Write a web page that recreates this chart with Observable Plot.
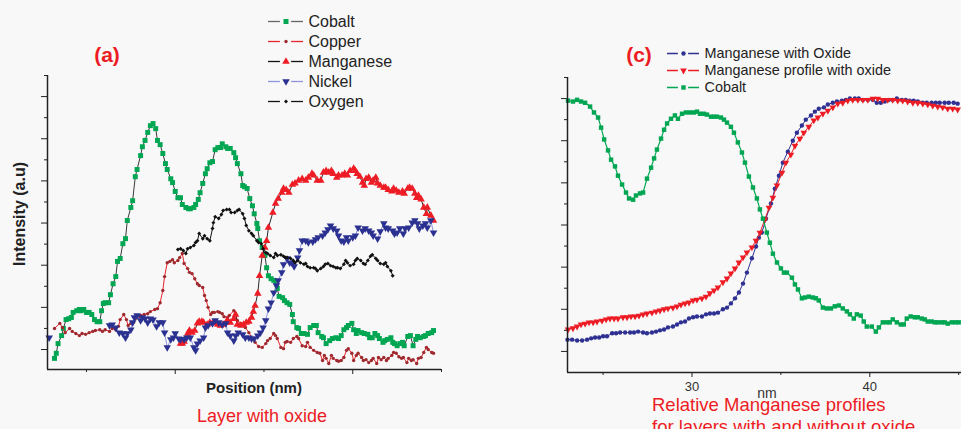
<!DOCTYPE html>
<html><head><meta charset="utf-8">
<script src="https://cdn.jsdelivr.net/npm/d3@7"></script>
<script src="https://cdn.jsdelivr.net/npm/@observablehq/plot@0.6"></script>
<style>
html,body{margin:0;padding:0;background:#f8f8f8;}
#wrap{position:relative;width:961px;height:429px;overflow:hidden;background:#f8f8f8;font-family:"Liberation Sans",Arial,sans-serif;}
.abs{position:absolute;top:0;}
.t{position:absolute;white-space:nowrap;line-height:1;}
.c{transform:translate(-50%,-50%);}
.l{transform:translate(0,-50%);}
</style></head>
<body><div id="wrap">
<div id="pa" class="abs" style="left:0;width:460px"></div>
<div id="pc" class="abs" style="left:480px;width:500px"></div>
<div id="lga" class="abs" style="left:0;width:961px"></div>
<div id="lgc" class="abs" style="left:0;width:961px"></div>
<div class="t c" style="left:107px;top:54px;font-weight:bold;font-size:21px;color:#ed1c24">(a)</div>
<div class="t c" style="left:639px;top:54px;font-weight:bold;font-size:21px;color:#ed1c24">(c)</div>
<div class="t c" style="left:20px;top:214px;font-weight:bold;font-size:16px;color:#222;transform:translate(-50%,-50%) rotate(-90deg)">Intensity (a.u)</div>
<div class="t c" style="left:254px;top:387px;font-weight:bold;font-size:15px;color:#222">Position (nm)</div>
<div class="t c" style="left:262px;top:416px;font-size:18px;color:#ed1c24">Layer with oxide</div>
<div class="t c" style="left:767px;top:393px;font-size:14px;color:#333">nm</div>
<div class="t l" style="left:652px;top:405px;font-size:18.5px;color:#ed1c24">Relative Manganese profiles</div>
<div class="t l" style="left:652px;top:427px;font-size:18.5px;color:#ed1c24">for layers with and without oxide</div>
</div>
<script>
// ---------- Panel (a): Layer with oxide ----------
const cobaltX = [-3.6,-3.4,-3.2,-2.8,-2.6,-2.3,-2.0,-1.7,-1.5,-1.1,-0.8,-0.6,-0.3,0.0,0.3,0.6,0.9,1.2,1.5,1.7,1.9,2.1,2.5,2.7,3.0,3.3,3.5,3.8,4.1,4.4,4.6,5.0,5.2,5.5,5.7,6.1,6.3,6.6,6.9,7.2,7.5,7.8,8.0,8.3,8.6,8.9,9.1,9.5,9.7,10.0,10.3,10.6,10.8,11.2,11.5,11.7,12.1,12.3,12.6,12.8,13.1,13.4,13.6,13.9,14.2,14.5,14.8,15.1,15.3,15.7,15.9,16.2,16.6,16.8,17.0,17.4,17.6,17.8,18.1,18.4,18.7,18.9,19.2,19.3,19.5,19.8,20.1,20.3,20.5,20.8,21.1,21.4,21.5,21.7,22.1,22.3,22.6,22.9,23.2,23.3,23.7,23.9,24.2,24.5,24.9,25.2,25.6,25.9,26.1,26.5,26.7,27.0,27.4,27.7,28.1,28.4,28.7,29.0,29.3,29.5,29.9,30.1,30.4,30.6,31.0,31.3,31.7,31.9,32.2,32.5,32.8,33.0,33.4,33.6,33.9,34.3,34.5,34.7,35.0,35.3,35.6,35.8,36.2,36.5,36.8,37.1,37.3,37.6,38.0,38.2,38.5,38.9,39.1];
const cobaltY = [-0.21,-0.09,0.14,0.33,0.50,0.71,0.73,0.76,0.88,0.92,0.95,0.92,0.95,0.88,0.88,0.83,0.71,0.66,0.66,0.92,1.09,1.11,1.11,1.30,1.56,1.73,2.09,2.16,2.51,2.63,3.06,3.37,3.53,4.10,4.27,4.60,4.81,4.96,5.15,5.31,5.36,5.24,4.96,4.86,4.65,4.41,4.27,4.05,3.96,3.75,3.60,3.60,3.44,3.37,3.34,3.34,3.37,3.44,3.56,3.72,3.94,4.17,4.29,4.43,4.46,4.74,4.79,4.79,4.88,4.81,4.77,4.77,4.67,4.55,4.41,4.17,3.89,3.86,3.82,3.58,3.41,3.22,2.99,2.87,2.58,2.42,2.23,1.94,1.75,1.68,1.64,1.56,1.45,1.26,1.23,1.16,1.11,1.07,0.83,0.66,0.52,0.50,0.38,0.38,0.36,0.52,0.57,0.57,0.40,0.31,0.28,0.14,0.21,0.26,0.28,0.26,0.33,0.47,0.52,0.57,0.62,0.47,0.38,0.45,0.40,0.38,0.36,0.28,0.28,0.38,0.33,0.26,0.17,0.21,0.24,0.28,0.17,0.14,0.09,0.14,0.17,0.09,0.31,0.33,0.09,0.24,0.31,0.28,0.31,0.33,0.38,0.40,0.45];

const copperX = [-3.6,-3.0,-2.7,-2.4,-1.9,-1.6,-1.2,-0.8,-0.5,-0.1,0.3,0.7,1.0,1.5,1.8,2.1,2.6,2.9,3.3,3.6,3.8,4.2,4.5,4.7,5.0,5.3,5.5,5.9,6.1,6.5,6.9,7.2,7.7,8.0,8.3,8.6,8.8,9.1,9.4,9.7,9.9,10.3,10.5,10.8,11.0,11.4,11.6,11.9,12.2,12.5,12.7,13.1,13.3,13.5,13.7,14.0,14.2,14.4,14.8,15.0,15.3,15.5,15.9,16.1,16.6,16.8,17.0,17.4,17.7,17.9,18.3,18.7,19.0,19.4,19.8,20.2,20.4,20.7,21.1,21.3,21.5,21.9,22.2,22.4,22.6,23.0,23.3,23.7,23.9,24.3,24.7,24.9,25.2,25.6,26.0,26.3,26.6,26.8,27.0,27.3,27.6,27.8,28.2,28.4,28.7,29.0,29.3,29.5,29.9,30.1,30.4,30.6,31.0,31.2,31.5,31.8,32.1,32.3,32.7,32.9,33.2,33.5,33.8,34.0,34.4,34.6,34.9,35.2,35.5,35.7,36.1,36.3,36.6,36.8,37.2,37.4,37.7,38.0,38.3,38.5,38.9,39.1];
const copperY = [0.50,0.62,0.52,0.40,0.50,0.43,0.38,0.33,0.38,0.36,0.40,0.43,0.45,0.47,0.43,0.47,0.43,0.50,0.47,0.55,0.71,0.83,0.71,0.57,0.62,0.64,0.73,0.78,0.81,0.83,0.85,0.90,0.95,0.97,1.11,1.40,1.73,2.06,2.09,2.13,2.06,2.11,2.18,2.28,2.04,1.92,1.83,1.80,1.68,1.56,1.52,1.47,1.28,1.16,1.00,0.83,0.88,0.88,0.90,0.88,0.85,0.78,0.76,0.81,0.92,0.85,0.69,0.62,0.59,0.52,0.40,0.26,0.17,0.07,0.05,0.14,0.21,0.26,0.38,0.33,0.26,0.05,0.02,0.17,0.19,0.17,0.26,0.31,0.26,0.09,0.07,0.17,0.05,-0.02,-0.07,-0.09,-0.26,-0.14,-0.21,-0.33,-0.14,-0.21,-0.26,-0.28,-0.26,-0.19,-0.02,0.02,-0.09,-0.26,-0.14,-0.09,-0.19,-0.26,-0.24,-0.31,-0.26,-0.21,-0.33,-0.19,-0.24,-0.19,-0.26,-0.21,-0.14,-0.07,-0.09,-0.17,-0.21,-0.19,-0.31,-0.21,-0.26,-0.24,-0.33,-0.21,-0.19,-0.07,0.05,0.00,-0.07,-0.09];

const manganeseX = [10.6,10.8,11.0,11.4,11.6,11.9,12.2,12.5,12.7,13.0,13.2,13.6,13.9,14.2,14.5,14.8,15.1,15.4,15.7,15.9,16.2,16.6,16.8,17.0,17.4,17.7,18.0,18.3,18.6,18.8,19.0,19.3,19.5,19.8,20.1,20.3,20.5,21.0,21.3,21.6,22.0,22.2,22.5,22.8,23.2,23.5,23.9,24.3,24.7,25.0,25.4,25.6,26.0,26.4,26.7,27.0,27.3,27.6,27.8,28.2,28.4,28.8,29.1,29.4,29.7,30.1,30.3,30.5,30.8,31.1,31.3,31.5,31.8,32.1,32.3,32.6,32.8,33.1,33.5,33.7,34.0,34.4,34.6,34.9,35.2,35.6,35.8,36.2,36.4,36.7,37.0,37.2,37.4,37.7,38.0,38.3,38.4,38.8,39.1];
const manganeseY = [0.14,0.14,0.19,0.38,0.45,0.40,0.45,0.62,0.66,0.66,0.64,0.59,0.64,0.62,0.64,0.59,0.57,0.59,0.64,0.69,0.64,0.73,0.83,0.59,0.57,0.59,0.64,0.66,0.76,0.90,1.04,1.33,1.75,2.23,2.42,2.58,2.89,3.25,3.46,3.58,3.72,3.82,3.79,3.72,3.91,3.94,4.01,4.05,4.01,4.08,4.17,4.13,4.01,4.01,4.20,4.24,4.20,4.24,4.17,4.08,4.13,4.13,4.17,4.13,4.24,4.29,4.24,4.17,4.10,3.96,3.89,4.05,4.08,3.96,4.01,4.08,3.94,3.89,3.84,3.84,3.79,3.75,3.82,3.77,3.72,3.75,3.70,3.82,3.84,3.82,3.70,3.60,3.65,3.56,3.37,3.22,3.37,3.18,3.06];

const nickelX = [-4.2,-4.0,2.6,2.9,3.3,3.7,4.1,4.4,4.6,5.0,5.2,5.4,5.7,6.1,6.3,6.6,6.9,7.2,7.5,7.9,8.2,8.6,8.8,9.1,9.5,9.8,10.0,10.4,10.6,11.0,11.3,11.7,12.1,12.3,12.5,12.8,13.2,13.4,13.7,14.2,14.5,14.9,15.3,15.7,15.9,16.2,16.6,16.8,17.1,17.6,17.9,18.3,18.6,18.9,19.3,19.6,19.9,20.2,20.5,20.8,21.1,21.4,21.6,22.0,22.2,22.6,22.9,23.2,23.4,23.8,24.0,24.3,24.7,25.0,25.5,25.8,26.1,26.6,26.9,27.2,27.5,27.8,28.2,28.4,28.7,29.0,29.3,29.5,30.0,30.3,30.6,31.1,31.4,31.8,32.1,32.3,32.8,33.1,33.5,33.7,34.0,34.5,34.7,35.0,35.3,35.7,35.9,36.3,36.7,37.0,37.3,37.5,37.9,38.2,38.4,38.8,39.1];
const nickelY = [0.28,NaN,0.57,0.59,0.52,0.40,0.38,0.28,0.38,0.47,0.64,0.76,0.81,0.69,0.76,0.73,0.64,0.73,0.71,0.55,0.64,0.64,0.40,0.05,0.24,0.28,0.38,0.26,0.24,0.24,0.28,0.28,0.05,-0.02,0.14,0.21,0.28,0.52,0.57,0.62,0.69,0.64,0.59,0.62,0.40,0.33,0.21,0.33,0.40,0.36,0.28,0.28,0.26,0.26,0.33,0.40,0.52,0.69,0.97,1.11,1.35,1.52,1.64,1.83,2.02,2.16,2.06,2.04,1.97,2.18,2.35,2.58,2.58,2.54,2.56,2.61,2.66,2.70,2.77,2.85,2.94,2.87,2.82,2.70,2.58,2.56,2.66,2.58,2.66,2.70,2.89,2.82,2.87,2.82,2.77,2.70,2.63,2.80,2.99,2.89,2.87,2.82,2.75,2.77,2.87,2.75,2.87,2.89,3.01,3.06,2.99,2.87,2.94,2.99,2.89,3.06,2.77];

const oxygenX = [10.3,10.6,10.9,11.2,11.4,11.7,12.1,12.3,12.5,12.7,13.1,13.3,13.6,13.9,14.2,14.3,14.5,14.9,15.2,15.4,15.8,16.1,16.3,16.7,17.0,17.2,17.6,17.8,18.0,18.3,18.6,18.8,19.2,19.4,19.7,19.9,20.2,20.4,20.7,21.1,21.3,21.5,21.9,22.2,22.4,22.6,23.0,23.3,23.5,23.8,24.1,24.5,24.7,24.9,25.2,25.6,25.8,26.0,26.4,26.7,26.9,27.2,27.5,27.8,28.1,28.3,28.6,29.0,29.2,29.4,29.7,30.1,30.3,30.5,30.9,31.2,31.4,31.7,32.0,32.2,32.6,32.8,33.1,33.5,33.7,33.9,34.3,34.5];
const oxygenY = [2.37,2.39,2.35,2.28,2.39,2.42,2.47,2.54,2.58,2.75,2.63,2.70,2.63,2.58,2.87,3.01,3.15,3.11,3.20,3.30,3.32,3.32,3.25,3.25,3.30,3.32,3.22,3.11,2.94,2.82,2.75,2.70,2.58,2.54,2.51,2.39,2.30,2.28,2.23,2.18,2.28,2.23,2.25,2.21,2.18,2.18,2.16,2.11,2.06,2.11,2.06,2.02,2.04,1.97,1.94,1.94,1.92,1.87,1.92,1.97,2.02,2.04,1.99,1.97,1.94,1.94,1.92,2.02,2.11,2.06,1.99,2.02,2.11,2.16,2.11,2.04,2.02,2.11,2.21,2.25,2.16,2.11,2.04,2.02,2.06,1.97,1.87,1.75];

// ---------- Panel (c): Relative Manganese profiles ----------
const mnOxideX = [23.00,23.26,23.54,23.82,24.10,24.33,24.55,24.78,25.00,25.22,25.51,25.73,25.96,26.24,26.52,26.74,26.97,27.25,27.47,27.75,27.98,28.20,28.43,28.65,28.93,29.16,29.38,29.61,29.83,30.06,30.28,30.56,30.79,31.01,31.24,31.46,31.74,31.97,32.19,32.42,32.64,32.87,33.09,33.37,33.60,33.76,33.93,34.16,34.44,34.66,34.89,35.11,35.39,35.67,35.90,36.18,36.40,36.69,36.91,37.13,37.42,37.64,37.92,38.15,38.43,38.65,38.88,39.16,39.38,39.61,39.89,40.17,40.39,40.62,40.84,41.07,41.29,41.52,41.80,42.02,42.25,42.47,42.70,42.98,43.20,43.48,43.71,43.93,44.21,44.44,44.72,44.94];
const mnOxideY = [0.28,0.28,0.26,0.26,0.28,0.31,0.33,0.33,0.36,0.36,0.43,0.43,0.45,0.45,0.45,0.45,0.47,0.45,0.43,0.45,0.47,0.50,0.52,0.57,0.59,0.64,0.69,0.71,0.78,0.81,0.83,0.83,0.88,0.90,0.90,0.92,1.00,1.04,1.14,1.26,1.40,1.61,1.87,2.21,2.49,2.70,2.82,3.15,3.51,3.86,4.17,4.48,4.74,5.00,5.19,5.36,5.50,5.60,5.69,5.76,5.79,5.86,5.90,5.93,5.95,5.97,6.00,6.00,6.00,5.97,5.97,5.97,5.90,5.90,5.93,5.97,5.97,6.00,5.97,5.97,5.95,5.95,5.93,5.90,5.90,5.90,5.90,5.90,5.90,5.90,5.90,5.88];

const mnProfileX = [23.03,23.31,23.54,23.76,23.99,24.21,24.44,24.66,24.94,25.17,25.39,25.62,25.84,26.12,26.35,26.57,26.80,27.02,27.25,27.47,27.75,27.98,28.20,28.43,28.65,28.93,29.16,29.38,29.61,29.83,30.06,30.28,30.56,30.79,31.01,31.24,31.46,31.74,31.97,32.19,32.42,32.64,32.87,33.09,33.37,33.60,33.82,34.10,34.33,34.55,34.78,35.06,35.28,35.56,35.79,36.07,36.29,36.57,36.85,37.08,37.36,37.64,37.92,38.20,38.48,38.76,39.04,39.33,39.61,39.89,40.17,40.45,40.73,41.01,41.29,41.57,41.85,42.13,42.42,42.70,42.98,43.26,43.54,43.82,44.10,44.38,44.66,44.94];
const mnProfileY = [0.52,0.55,0.59,0.64,0.66,0.69,0.69,0.71,0.73,0.76,0.78,0.78,0.78,0.81,0.81,0.83,0.83,0.85,0.88,0.90,0.92,0.95,0.97,1.00,1.02,1.04,1.07,1.11,1.14,1.16,1.21,1.23,1.26,1.30,1.38,1.45,1.52,1.64,1.73,1.85,1.97,2.11,2.23,2.35,2.47,2.63,2.82,3.13,3.41,3.65,3.94,4.24,4.48,4.67,4.88,5.05,5.19,5.33,5.48,5.55,5.64,5.71,5.79,5.88,5.90,5.95,5.97,5.97,5.97,5.97,6.00,6.00,5.97,5.97,5.97,5.95,5.95,5.93,5.90,5.90,5.88,5.86,5.83,5.81,5.79,5.76,5.76,5.74];

const cobaltRX = [23.03,23.31,23.54,23.76,23.99,24.27,24.49,24.72,24.89,25.06,25.28,25.45,25.67,25.84,26.07,26.29,26.46,26.69,26.85,27.08,27.25,27.47,27.70,27.87,28.03,28.26,28.43,28.60,28.82,29.04,29.21,29.44,29.66,29.89,30.11,30.28,30.45,30.67,30.84,31.07,31.24,31.40,31.63,31.80,31.97,32.19,32.36,32.58,32.81,32.98,33.20,33.43,33.65,33.82,33.99,34.21,34.38,34.55,34.78,35.00,35.17,35.34,35.62,35.79,35.96,36.18,36.35,36.57,36.80,36.97,37.13,37.36,37.58,37.81,38.03,38.26,38.48,38.71,38.88,39.10,39.27,39.49,39.66,39.83,40.11,40.34,40.51,40.73,40.96,41.12,41.29,41.52,41.74,41.91,42.08,42.30,42.53,42.70,42.92,43.09,43.26,43.48,43.65,43.82,44.04,44.21,44.38,44.61,44.83,45.00];
const cobaltRY = [5.95,5.93,5.97,5.93,5.90,5.81,5.67,5.55,5.31,5.03,4.77,4.55,4.39,4.17,3.96,3.77,3.63,3.60,3.70,3.75,3.77,4.10,4.36,4.58,4.79,5.05,5.26,5.41,5.52,5.60,5.52,5.64,5.67,5.67,5.67,5.69,5.64,5.64,5.62,5.57,5.57,5.57,5.55,5.50,5.43,5.33,5.19,4.96,4.72,4.48,4.15,3.89,3.63,3.37,3.15,2.82,2.58,2.32,2.11,1.97,1.87,1.87,1.75,1.59,1.47,1.26,1.28,1.30,1.28,1.26,1.21,1.04,1.02,1.02,1.07,1.09,1.02,0.95,0.88,0.78,0.88,0.85,0.71,0.59,0.59,0.47,0.57,0.69,0.69,0.69,0.76,0.69,0.64,0.64,0.78,0.83,0.81,0.81,0.78,0.76,0.71,0.71,0.69,0.69,0.69,0.69,0.66,0.69,0.69,0.69];

// axis ticks (labels hidden except 30 / 40 on panel c)
const yMajor = [0,1,2,3,4,5,6];
const yMinor = [0.5,1.5,2.5,3.5,4.5,5.5,6.5];
const xMajorA = [10,30], xMinorA = [0,20,40];
const xMajorC = [30,40], xMinorC = [25,35,45];

// ---------- helpers ----------
const pts = (X, Y) => X.map((x, i) => ({x, y: Y[i]}));
const downTri = {draw(ctx, size) {
  const y = -Math.sqrt(size / (Math.sqrt(3) * 3));
  ctx.moveTo(0, -y * 2);
  ctx.lineTo(-Math.sqrt(3) * y, y);
  ctx.lineTo(Math.sqrt(3) * y, y);
  ctx.closePath();
}};
const font = "Liberation Sans, Arial, sans-serif";
const none = () => "";

const seriesA = [
  {name:"Cobalt", X:cobaltX, Y:cobaltY, line:"#222", lw:0.9, leg:"#666", fill:"#00a651", symbol:"square", r:2.8},
  {name:"Copper", X:copperX, Y:copperY, line:"#e8242c", lw:1, leg:"#e8242c", fill:"#9e2a2f", symbol:"circle", r:1.7},
  {name:"Manganese", X:manganeseX, Y:manganeseY, line:"#111", lw:0.9, leg:"#111", fill:"#ee1c25", symbol:"triangle", r:2.8},
  {name:"Nickel", X:nickelX, Y:nickelY, line:"#8f95dc", lw:1, leg:"#8f95dc", fill:"#2b3190", symbol:downTri, r:2.8},
  {name:"Oxygen", X:oxygenX, Y:oxygenY, line:"#111", lw:1, leg:"#111", fill:"#111", symbol:"diamond2", r:1.8}
];
const seriesC = [
  {name:"Manganese with Oxide", X:mnOxideX, Y:mnOxideY, line:"#2e3192", lw:1, leg:"#2e3192", fill:"#2e3192", symbol:"circle", r:2.2},
  {name:"Manganese profile with oxide", X:mnProfileX, Y:mnProfileY, line:"#ed1c24", lw:1, leg:"#ed1c24", fill:"#ed1c24", symbol:downTri, r:2.5},
  {name:"Cobalt", X:cobaltRX, Y:cobaltRY, line:"#00a651", lw:1.2, leg:"#00a651", fill:"#00a651", symbol:"square", r:2.5}
];

function seriesMarks(list) {
  return list.flatMap(s => {
    const d = pts(s.X, s.Y);
    return [
      Plot.line(d, {x:"x", y:"y", stroke:s.line, strokeWidth:s.lw}),
      Plot.dot(d, {x:"x", y:"y", fill:s.fill, stroke:"none", symbol:s.symbol, r:s.r})
    ];
  });
}
function axisMarks(xMaj, xMin, xLabels) {
  return [
    Plot.axisY({ticks:yMajor, tickSize:6, tickFormat:none, label:null, stroke:"#222"}),
    Plot.axisY({ticks:yMinor, tickSize:3, tickFormat:none, label:null, stroke:"#222"}),
    Plot.axisX({ticks:xMaj, tickSize:5, tickPadding:4, tickFormat: xLabels ? (d => String(d)) : none, label:null, stroke:"#222", fill:"#333", fontSize:13}),
    Plot.axisX({ticks:xMin, tickSize:3, tickFormat:none, label:null, stroke:"#222"})
  ];
}

// ---------- panel (a) ----------
const xDomA = [-4.39, 40], yDomA = [-0.474, 6.5];
const plotA = Plot.plot({
  width:460, height:400, marginLeft:47, marginRight:19, marginTop:75, marginBottom:31,
  x:{domain:xDomA, label:null}, y:{domain:yDomA, label:null},
  style:{background:"transparent", fontFamily:font, fontSize:"13px", color:"#222", overflow:"visible"},
  marks:[
    ...axisMarks(xMajorA, xMinorA, false),
    ...seriesMarks(seriesA),
    Plot.ruleX([xDomA[0]], {stroke:"#222", strokeWidth:1.5}),
    Plot.ruleY([yDomA[0]], {stroke:"#222", strokeWidth:1.5})
  ]
});
document.getElementById("pa").appendChild(plotA);

// ---------- panel (c) ----------
const xDomC = [23, 46], yDomC = [-0.5, 6.5];
const plotC = Plot.plot({
  width:500, height:400, marginLeft:87, marginRight:4, marginTop:77, marginBottom:28,
  x:{domain:xDomC, label:null}, y:{domain:yDomC, label:null},
  style:{background:"transparent", fontFamily:font, fontSize:"13px", color:"#222", overflow:"visible"},
  marks:[
    ...axisMarks(xMajorC, xMinorC, true),
    ...seriesMarks(seriesC),
    Plot.ruleX([xDomC[0]], {stroke:"#222", strokeWidth:1.5}),
    Plot.ruleY([yDomC[0]], {stroke:"#222", strokeWidth:1.5})
  ]
});
document.getElementById("pc").appendChild(plotC);

// ---------- legends ----------
function legend(list, xRange, yRange, fontSize, lw) {
  const names = list.map(s => s.name);
  return Plot.plot({
    width:961, height:110, margin:0,
    x:{domain:[0,1], range:xRange, axis:null},
    y:{type:"point", padding:0, domain:names.map((n,i)=>i+":"+n), range:yRange, axis:null},
    style:{background:"transparent", fontFamily:font, overflow:"visible"},
    marks: list.flatMap((s, i) => {
      const k = [i + ":" + s.name];
      return [
        Plot.ruleY(k, {y:d=>d, x1:0, x2:0.34, stroke:s.leg, strokeWidth:lw}),
        Plot.ruleY(k, {y:d=>d, x1:0.66, x2:1, stroke:s.leg, strokeWidth:lw}),
        Plot.dot(k, {x:0.5, y:d=>d, fill:s.fill, stroke:"none", symbol:s.symbol, r:s.r}),
        Plot.text(k, {x:1, y:d=>d, text:()=>s.name, dx:5, textAnchor:"start", fontSize, fill:"#222"})
      ];
    })
  });
}
document.getElementById("lga").appendChild(legend(seriesA, [268, 303], [20.5, 101.5], 16, 1.3));
document.getElementById("lgc").appendChild(legend(seriesC, [667, 699], [52.3, 87.3], 14.4, 1.5));
</script>
</body></html>
